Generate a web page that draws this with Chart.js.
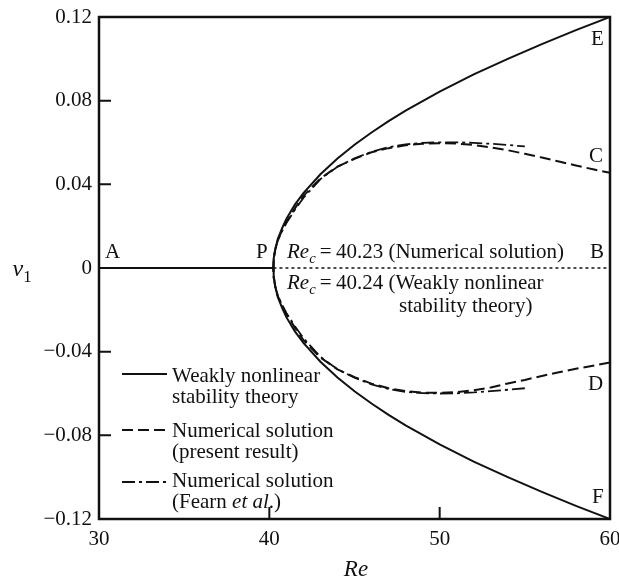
<!DOCTYPE html>
<html>
<head>
<meta charset="utf-8">
<script src="https://cdn.jsdelivr.net/npm/chart.js@4"></script>
<style>
  body { margin: 0; background: #fff; }
  #wrap { width: 619px; height: 582px; }
</style>
</head>
<body>
<div id="wrap"><canvas id="bifurcation" width="619" height="582"></canvas></div>
<script>
// ---- data ----
const xTickLabels = ['30', '40', '50', '60'];
const yTickLabels = ['\u22120.12', '\u22120.08', '\u22120.04', '0', '0.04', '0.08', '0.12'];

// weakly nonlinear stability theory (solid)
const reTheory = [40.24, 40.27, 40.35, 40.5, 40.75, 41, 41.5, 42, 43, 44, 45, 46, 47, 48, 50, 52, 54, 56, 58, 60];
const v1TheoryUpper = [0, 0.0045, 0.009, 0.014, 0.019, 0.0235, 0.0303, 0.0358, 0.0448, 0.0524, 0.0589, 0.0648, 0.0702, 0.0752, 0.0843, 0.0926, 0.1000, 0.1070, 0.1137, 0.1200];
const v1TheoryLower = [0, -0.0045, -0.009, -0.014, -0.019, -0.0235, -0.0303, -0.0358, -0.0448, -0.0524, -0.0589, -0.0648, -0.0702, -0.0752, -0.0843, -0.0926, -0.1000, -0.1070, -0.1137, -0.1200];

// numerical solution, present result (dashed)
const reNumerical = [40.23, 40.26, 40.35, 40.5, 40.75, 41, 41.5, 42, 43, 44, 45, 46, 47, 48, 49, 50, 51, 52, 53, 54, 55, 56, 57, 58, 59, 60];
const v1NumericalUpper = [0, 0.0045, 0.009, 0.0135, 0.018, 0.022, 0.0285, 0.0345, 0.0428, 0.0485, 0.0522, 0.0553, 0.0573, 0.0587, 0.0594, 0.0597, 0.0595, 0.0588, 0.0577, 0.0563, 0.0546, 0.0528, 0.0509, 0.0490, 0.0472, 0.0455];
const v1NumericalLower = [0, -0.0045, -0.009, -0.0135, -0.018, -0.022, -0.0285, -0.0345, -0.0428, -0.0485, -0.0522, -0.0553, -0.0575, -0.0589, -0.0596, -0.0597, -0.0593, -0.0584, -0.0571, -0.0552, -0.0535, -0.0516, -0.0498, -0.0482, -0.0467, -0.0452];

// numerical solution, Fearn et al. (dash-dot)
const reFearn = [40.23, 40.26, 40.35, 40.5, 40.75, 41, 41.5, 42, 43, 44, 45, 46, 47, 48, 49, 50, 51, 52, 53, 54, 55];
const v1FearnUpper = [0, 0.0045, 0.009, 0.0132, 0.0176, 0.0215, 0.0278, 0.0335, 0.0425, 0.0484, 0.0524, 0.0556, 0.0578, 0.0591, 0.0598, 0.0601, 0.0601, 0.0598, 0.0594, 0.0588, 0.0581];
const v1FearnLower = [0, -0.0045, -0.009, -0.0132, -0.0176, -0.0215, -0.0278, -0.0335, -0.0425, -0.0484, -0.0524, -0.0556, -0.0578, -0.0592, -0.0598, -0.0600, -0.0599, -0.0595, -0.0589, -0.0582, -0.0575];

// base state v1 = 0 : stable (solid, A-P) and unstable (dotted, P-B)
const reStable = [30, 40.24];
const reUnstable = [40.24, 60];

// join a lower and an upper branch into one path through the bifurcation point
function branchPath(re, lower, upper) {
  const pts = [];
  for (let i = re.length - 1; i >= 0; i--) pts.push({ x: re[i], y: lower[i] });
  for (let i = 1; i < re.length; i++) pts.push({ x: re[i], y: upper[i] });
  return pts;
}

const INK = '#111';
const SERIF = '"Liberation Serif", "DejaVu Serif", serif';
const FS = 21;
Chart.defaults.font.family = SERIF;
Chart.defaults.color = INK;

// text with italic / subscript pieces
function drawRich(ctx, parts, x, y, size, align) {
  let w = 0;
  parts.forEach(p => {
    ctx.font = (p.i ? 'italic ' : '') + (p.sub ? size * 0.7 : size) + 'px ' + SERIF;
    p.w = ctx.measureText(p.t).width;
    w += p.w;
  });
  let cx = align === 'center' ? x - w / 2 : align === 'right' ? x - w : x;
  parts.forEach(p => {
    ctx.font = (p.i ? 'italic ' : '') + (p.sub ? size * 0.7 : size) + 'px ' + SERIF;
    ctx.fillText(p.t, cx, p.sub ? y + size * 0.25 : y);
    cx += p.w;
  });
}

const decorPlugin = {
  id: 'decor',
  afterDraw(chart) {
    const { ctx, chartArea: a, scales } = chart;
    const xs = scales.x, ys = scales.y;
    ctx.save();
    ctx.strokeStyle = INK;
    ctx.fillStyle = INK;
    ctx.lineWidth = 2.5;
    ctx.setLineDash([]);
    ctx.strokeRect(a.left, a.top, a.right - a.left, a.bottom - a.top);

    // inward ticks
    ctx.lineWidth = 2;
    ctx.beginPath();
    [-0.08, -0.04, 0.04, 0.08].forEach(v => {
      const py = ys.getPixelForValue(v);
      ctx.moveTo(a.left, py); ctx.lineTo(a.left + 12, py);
    });
    [40, 50].forEach(v => {
      const px = xs.getPixelForValue(v);
      ctx.moveTo(px, a.bottom); ctx.lineTo(px, a.bottom - 12);
    });
    ctx.stroke();

    ctx.textBaseline = 'alphabetic';
    ctx.textAlign = 'left';
    ctx.font = FS + 'px ' + SERIF;
    ctx.fillText('A', 105, 258);
    ctx.fillText('P', 256, 258);
    ctx.fillText('B', 590, 258);
    ctx.fillText('E', 591, 45);
    ctx.fillText('C', 589, 162);
    ctx.fillText('D', 588, 390);
    ctx.fillText('F', 592, 503);

    drawRich(ctx, [{ t: 'Re', i: true }, { t: 'c', i: true, sub: true }, { t: '\u2009=\u200940.23 (Numerical solution)' }], 287, 258, FS, 'left');
    drawRich(ctx, [{ t: 'Re', i: true }, { t: 'c', i: true, sub: true }, { t: '\u2009=\u200940.24 (Weakly nonlinear' }], 287, 289, FS, 'left');
    ctx.font = FS + 'px ' + SERIF;
    ctx.fillText('stability theory)', 399, 312);

    // legend
    const legendRows = [
      { dash: [], y: 374, lines: ['Weakly nonlinear', 'stability theory'], ty: 382 },
      { dash: [11, 5], y: 430, lines: ['Numerical solution', '(present result)'], ty: 437 },
      { dash: [13, 4, 3, 4], y: 482, lines: ['Numerical solution'], ty: 487 }
    ];
    legendRows.forEach(r => {
      ctx.setLineDash(r.dash);
      ctx.lineWidth = 2;
      ctx.beginPath();
      ctx.moveTo(122, r.y); ctx.lineTo(167, r.y);
      ctx.stroke();
      ctx.setLineDash([]);
      ctx.font = FS + 'px ' + SERIF;
      r.lines.forEach((t, k) => ctx.fillText(t, 172, r.ty + k * 21));
    });
    drawRich(ctx, [{ t: '(Fearn ' }, { t: 'et al', i: true }, { t: '.)' }], 172, 508, FS, 'left');

    // axis titles
    drawRich(ctx, [{ t: 'Re', i: true }], 356, 576, 23, 'center');
    drawRich(ctx, [{ t: 'v', i: true }, { t: '1', sub: true }], 22, 276, 24, 'center');
    ctx.restore();
  }
};

const ctx = document.getElementById('bifurcation').getContext('2d');
new Chart(ctx, {
  type: 'scatter',
  data: {
    datasets: [
      {
        label: 'Weakly nonlinear stability theory',
        data: branchPath(reTheory, v1TheoryLower, v1TheoryUpper),
        borderColor: INK, borderWidth: 2
      },
      {
        label: 'Numerical solution (present result)',
        data: branchPath(reNumerical, v1NumericalLower, v1NumericalUpper),
        borderColor: INK, borderWidth: 2, borderDash: [11, 5]
      },
      {
        label: 'Numerical solution (Fearn et al.)',
        data: branchPath(reFearn, v1FearnLower, v1FearnUpper),
        borderColor: INK, borderWidth: 1.8, borderDash: [13, 4, 3, 4]
      },
      {
        label: 'Stable base state',
        data: reStable.map(r => ({ x: r, y: 0 })),
        borderColor: INK, borderWidth: 2
      },
      {
        label: 'Unstable base state',
        data: reUnstable.map(r => ({ x: r, y: 0 })),
        borderColor: INK, borderWidth: 1.5, borderDash: [3, 3]
      }
    ].map(d => Object.assign(d, { showLine: true, pointRadius: 0, tension: 0, fill: false }))
  },
  options: {
    responsive: false,
    animation: false,
    layout: { padding: { left: 0, top: 17, right: 9, bottom: 0 } },
    plugins: { legend: { display: false }, tooltip: { enabled: false } },
    scales: {
      x: {
        type: 'linear', min: 30, max: 60,
        afterFit(s) { s.height = 63; s.paddingLeft = 0; s.paddingRight = 0; },
        grid: { display: false, drawTicks: false },
        border: { display: false },
        ticks: {
          stepSize: 10, padding: 8, maxRotation: 0,
          font: { size: FS, family: SERIF }, color: INK,
          callback: (v, i) => xTickLabels[i]
        }
      },
      y: {
        type: 'linear', min: -0.12, max: 0.12,
        afterFit(s) { s.width = 99; s.paddingTop = 0; s.paddingBottom = 0; },
        grid: { display: false, drawTicks: false },
        border: { display: false },
        ticks: {
          stepSize: 0.04, padding: 7,
          font: { size: FS, family: SERIF }, color: INK,
          callback: (v, i) => yTickLabels[i]
        }
      }
    }
  },
  plugins: [decorPlugin]
});
</script>
</body>
</html>
